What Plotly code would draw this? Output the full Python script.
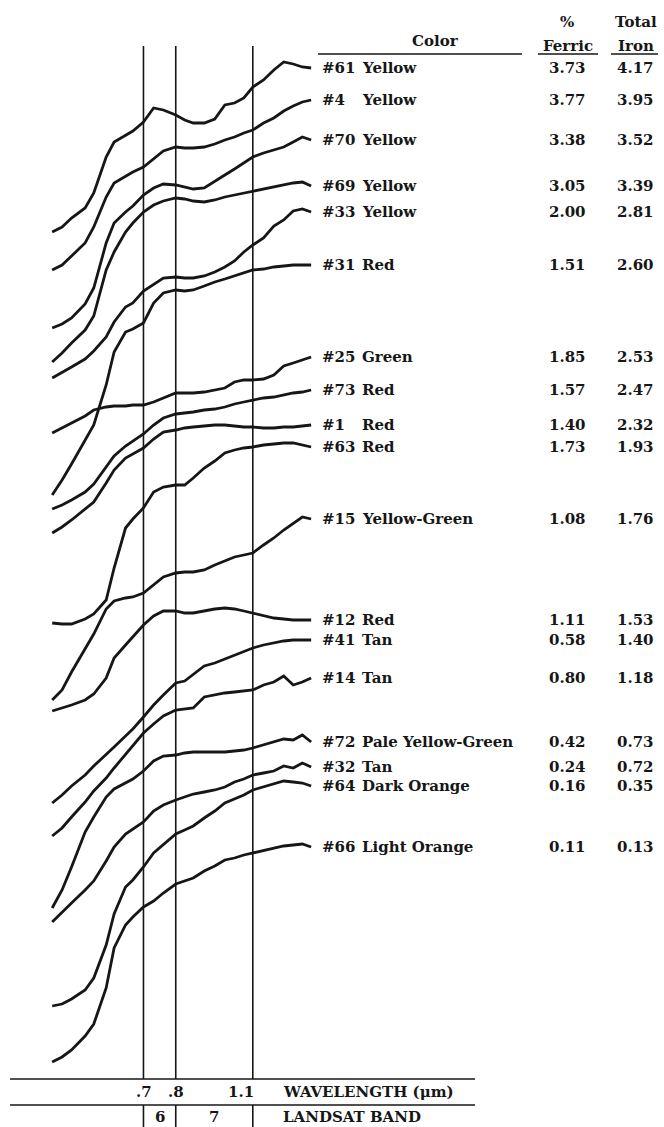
import plotly.graph_objects as go

W, H = 664, 1127

# Wavelength grid (micrometres) at which every spectrum is sampled
wavelength_um = [0.48, 0.50, 0.52, 0.55, 0.57, 0.60, 0.62, 0.65, 0.67, 0.70,
                 0.73, 0.76, 0.80, 0.83, 0.86, 0.90, 0.94, 0.98, 1.02, 1.06,
                 1.10, 1.15, 1.20, 1.25, 1.30, 1.35, 1.40]

# Relative reflectance of each soil sample, curves stacked with vertical offsets
r61 = [84.7, 85.2, 86.1, 87.1, 88.6, 92.2, 93.7, 94.4, 94.8, 95.7, 97.1, 96.9, 96.4, 95.9,
       95.6, 95.6, 96.0, 97.4, 97.6, 98.1, 99.2, 99.9, 100.9, 101.7, 101.5, 101.2, 101.1]
r4 = [80.9, 81.4, 82.3, 83.6, 85.2, 88.2, 89.6, 90.3, 90.7, 91.2, 92.0, 92.8, 93.2, 93.1,
      93.1, 93.2, 93.5, 93.9, 94.2, 94.6, 94.9, 95.6, 96.1, 96.8, 97.3, 97.7, 97.9]
r70 = [75.1, 75.5, 76.1, 77.5, 79.1, 83.6, 85.6, 86.7, 87.3, 88.4, 89.1, 89.5, 89.4, 89.2,
       89.0, 89.1, 89.8, 90.4, 91.0, 91.6, 92.2, 92.6, 92.9, 93.2, 93.7, 94.2, 93.9]
r69 = [71.7, 72.6, 73.6, 74.9, 76.3, 80.9, 82.7, 84.7, 85.6, 86.7, 87.4, 87.8, 88.1, 88.0,
       87.8, 87.7, 87.9, 88.2, 88.4, 88.6, 88.8, 89.0, 89.2, 89.4, 89.6, 89.7, 89.3]
r33 = [70.1, 70.7, 71.2, 72.0, 72.8, 74.2, 75.7, 77.2, 77.6, 78.8, 79.5, 80.1, 80.2, 80.1,
       80.1, 80.3, 80.7, 81.2, 81.8, 82.7, 83.4, 84.1, 85.3, 85.9, 86.8, 87.0, 86.7]
r31 = [58.4, 59.9, 61.5, 63.9, 65.4, 69.4, 72.7, 74.7, 75.0, 75.6, 77.6, 78.6, 78.9, 78.8,
       78.9, 79.3, 79.7, 80.0, 80.3, 80.6, 80.9, 81.0, 81.2, 81.3, 81.4, 81.4, 81.4]
r25 = [64.6, 65.1, 65.6, 66.3, 66.9, 67.2, 67.3, 67.3, 67.4, 67.4, 67.7, 68.1, 68.6, 68.6,
       68.6, 68.7, 68.9, 69.1, 69.7, 69.9, 69.9, 70.0, 70.4, 71.3, 71.6, 71.9, 72.2]
r73 = [57.0, 57.4, 57.9, 58.7, 59.5, 61.2, 62.3, 63.3, 63.8, 64.5, 65.4, 66.1, 66.5, 66.6,
       66.7, 66.9, 67.0, 67.2, 67.5, 67.7, 67.9, 68.1, 68.2, 68.4, 68.6, 68.7, 68.9]
r1 = [54.6, 55.2, 55.9, 57.0, 57.7, 59.6, 60.9, 62.1, 62.5, 63.1, 64.0, 64.7, 64.9, 65.1,
      65.2, 65.3, 65.4, 65.4, 65.3, 65.2, 65.2, 65.1, 65.1, 65.2, 65.2, 65.3, 65.4]
r63 = [45.6, 45.5, 45.5, 46.0, 46.5, 47.9, 51.1, 55.1, 56.0, 57.1, 58.7, 59.2, 59.4, 59.4,
       60.1, 61.1, 61.8, 62.6, 62.9, 63.1, 63.2, 63.4, 63.5, 63.6, 63.6, 63.4, 63.2]
r15 = [37.9, 38.9, 40.7, 43.1, 44.5, 47.0, 47.8, 48.1, 48.2, 48.6, 49.4, 50.2, 50.6, 50.7,
       50.7, 50.9, 51.4, 51.8, 52.2, 52.4, 52.6, 53.4, 54.1, 54.9, 55.6, 56.2, 56.0]
r12 = [36.8, 37.1, 37.4, 37.9, 38.5, 40.1, 42.1, 43.4, 44.2, 45.4, 46.3, 46.8, 46.8, 46.6,
       46.6, 46.8, 47.0, 47.1, 47.0, 46.8, 46.6, 46.3, 46.1, 46.0, 45.9, 45.9, 45.9]
r41 = [27.6, 28.4, 29.3, 30.4, 31.3, 32.4, 33.2, 34.3, 35.0, 36.2, 37.4, 38.4, 39.6, 39.8,
       40.5, 41.3, 41.6, 42.0, 42.4, 42.7, 43.1, 43.4, 43.6, 43.8, 43.9, 43.9, 43.9]
r14 = [24.3, 25.1, 26.2, 27.7, 28.8, 30.1, 31.1, 32.5, 33.4, 34.6, 35.5, 36.3, 36.9, 37.0,
       37.1, 38.2, 38.4, 38.6, 38.7, 38.8, 38.9, 39.4, 39.7, 40.3, 39.4, 39.7, 40.1]
r72 = [17.1, 18.9, 21.2, 24.7, 26.2, 28.2, 29.0, 29.6, 30.0, 30.8, 31.8, 32.3, 32.4, 32.6,
       32.7, 32.7, 32.7, 32.7, 32.8, 32.9, 33.1, 33.4, 33.7, 34.0, 33.9, 34.4, 33.7]
r32 = [15.7, 16.7, 17.6, 18.9, 19.8, 21.8, 23.2, 24.5, 25.0, 25.7, 26.8, 27.4, 27.9, 28.2,
       28.5, 28.7, 28.9, 29.2, 29.7, 30.0, 30.4, 30.6, 30.8, 31.3, 31.1, 31.6, 31.2]
r64 = [7.3, 7.5, 8.0, 8.9, 10.1, 13.4, 16.5, 19.2, 19.9, 21.2, 22.6, 23.4, 24.5, 24.9,
       25.3, 26.1, 26.8, 27.6, 28.0, 28.4, 28.9, 29.2, 29.5, 29.8, 29.7, 29.6, 29.3]
r66 = [1.7, 2.2, 2.9, 4.3, 5.5, 9.1, 13.1, 15.4, 16.2, 17.2, 17.8, 18.6, 19.5, 19.8,
       20.1, 20.8, 21.3, 21.9, 22.1, 22.4, 22.6, 22.9, 23.1, 23.3, 23.4, 23.5, 23.2]

# Table of samples, top to bottom
sample_ids = ["#61", "#4", "#70", "#69", "#33", "#31", "#25", "#73", "#1", "#63",
              "#15", "#12", "#41", "#14", "#72", "#32", "#64", "#66"]
soil_colors = ["Yellow", "Yellow", "Yellow", "Yellow", "Yellow", "Red", "Green", "Red",
               "Red", "Red", "Yellow-Green", "Red", "Tan", "Tan", "Pale Yellow-Green",
               "Tan", "Dark Orange", "Light Orange"]
ferric_pct = ["3.73", "3.77", "3.38", "3.05", "2.00", "1.51", "1.85", "1.57", "1.40",
              "1.73", "1.08", "1.11", "0.58", "0.80", "0.42", "0.24", "0.16", "0.11"]
total_iron_pct = ["4.17", "3.95", "3.52", "3.39", "2.81", "2.60", "2.53", "2.47", "2.32",
                  "1.93", "1.76", "1.53", "1.40", "1.18", "0.73", "0.72", "0.35", "0.13"]
spectra = [r61, r4, r70, r69, r33, r31, r25, r73, r1, r63,
           r15, r12, r41, r14, r72, r32, r64, r66]

# Wavelength ticks and Landsat MSS bands 6 and 7
band_edges_um = [0.7, 0.8, 1.1]
band_edge_labels = [".7", ".8", "1.1"]
landsat_bands = ["6", "7"]

INK = "#161616"
FONT = "DejaVu Serif"
Y_TOP = 103.3      # top of the band edge rules
Y_AXIS = 0.0       # wavelength rule
Y_BAND = -2.6      # Landsat band rule
Y_MIN, Y_MAX = -4.8, 107.9

fig = go.Figure()

# band edge rules, above the wavelength rule and below the band rule
for e in band_edges_um:
    fig.add_trace(go.Scatter(x=[e, e, None, e, e], y=[Y_AXIS, Y_TOP, None, Y_BAND, Y_MIN],
                             mode="lines", line=dict(color=INK, width=1.6),
                             hoverinfo="skip", showlegend=False))

for sid, ys in zip(sample_ids, spectra):
    fig.add_trace(go.Scatter(x=wavelength_um, y=ys, mode="lines", name=sid,
                             line=dict(color=INK, width=2.8), showlegend=False))


def px(v):
    return v / W


def py(v):
    return 1 - v / H


annotations = []
txt = dict(family=FONT, size=15, color=INK, weight="bold")

# sample rows
for sid, col, fe, tot, ys in zip(sample_ids, soil_colors, ferric_pct, total_iron_pct, spectra):
    y = ys[-1]
    annotations += [
        dict(x=px(320), y=y, xref="paper", yref="y", text=sid, xanchor="left"),
        dict(x=px(360), y=y, xref="paper", yref="y", text=col, xanchor="left"),
        dict(x=px(588), y=y, xref="paper", yref="y", text=fe, xanchor="right"),
        dict(x=px(656), y=y, xref="paper", yref="y", text=tot, xanchor="right"),
    ]

# column headers
annotations += [
    dict(x=px(435), y=py(41), xref="paper", yref="paper", text="Color", xanchor="center"),
    dict(x=px(567), y=py(22), xref="paper", yref="paper", text="%", xanchor="center"),
    dict(x=px(568), y=py(46), xref="paper", yref="paper", text="Ferric", xanchor="center"),
    dict(x=px(636), y=py(22), xref="paper", yref="paper", text="Total", xanchor="center"),
    dict(x=px(636), y=py(46), xref="paper", yref="paper", text="Iron", xanchor="center"),
]

# wavelength and band labels under the chart
edge_label_x = [144, 176, 241]
for lab, xx in zip(band_edge_labels, edge_label_x):
    annotations.append(dict(x=px(xx), y=py(1092), xref="paper", yref="paper",
                            text=lab, xanchor="center"))
annotations.append(dict(x=px(281), y=py(1092), xref="paper", yref="paper",
                        text="WAVELENGTH (\u03bcm)", xanchor="left"))
for lab, xx in zip(landsat_bands, [160, 214]):
    annotations.append(dict(x=px(xx), y=py(1117), xref="paper", yref="paper",
                            text=lab, xanchor="center"))
annotations.append(dict(x=px(281), y=py(1117), xref="paper", yref="paper",
                        text="LANDSAT BAND", xanchor="left"))

for a in annotations:
    a.update(showarrow=False, yanchor="middle", font=txt)

shapes = []
# header underlines
for x0, x1 in [(318, 522), (538, 598), (611, 658)]:
    shapes.append(dict(type="line", xref="paper", yref="paper", x0=px(x0), x1=px(x1),
                       y0=py(54), y1=py(54), line=dict(color=INK, width=1.5)))
# wavelength rule and band rule
for yv in [Y_AXIS, Y_BAND]:
    shapes.append(dict(type="line", xref="paper", yref="y", x0=px(10), x1=px(475),
                       y0=yv, y1=yv, line=dict(color=INK, width=1.6)))

fig.update_layout(
    width=W, height=H,
    margin=dict(l=0, r=0, t=0, b=0),
    paper_bgcolor="white", plot_bgcolor="white",
    xaxis=dict(type="log", range=[-0.41246, 0.77964], visible=False, fixedrange=True),
    yaxis=dict(range=[Y_MIN, Y_MAX], visible=False, fixedrange=True),
    annotations=annotations, shapes=shapes,
    showlegend=False,
)

fig.write_html("out.html")
